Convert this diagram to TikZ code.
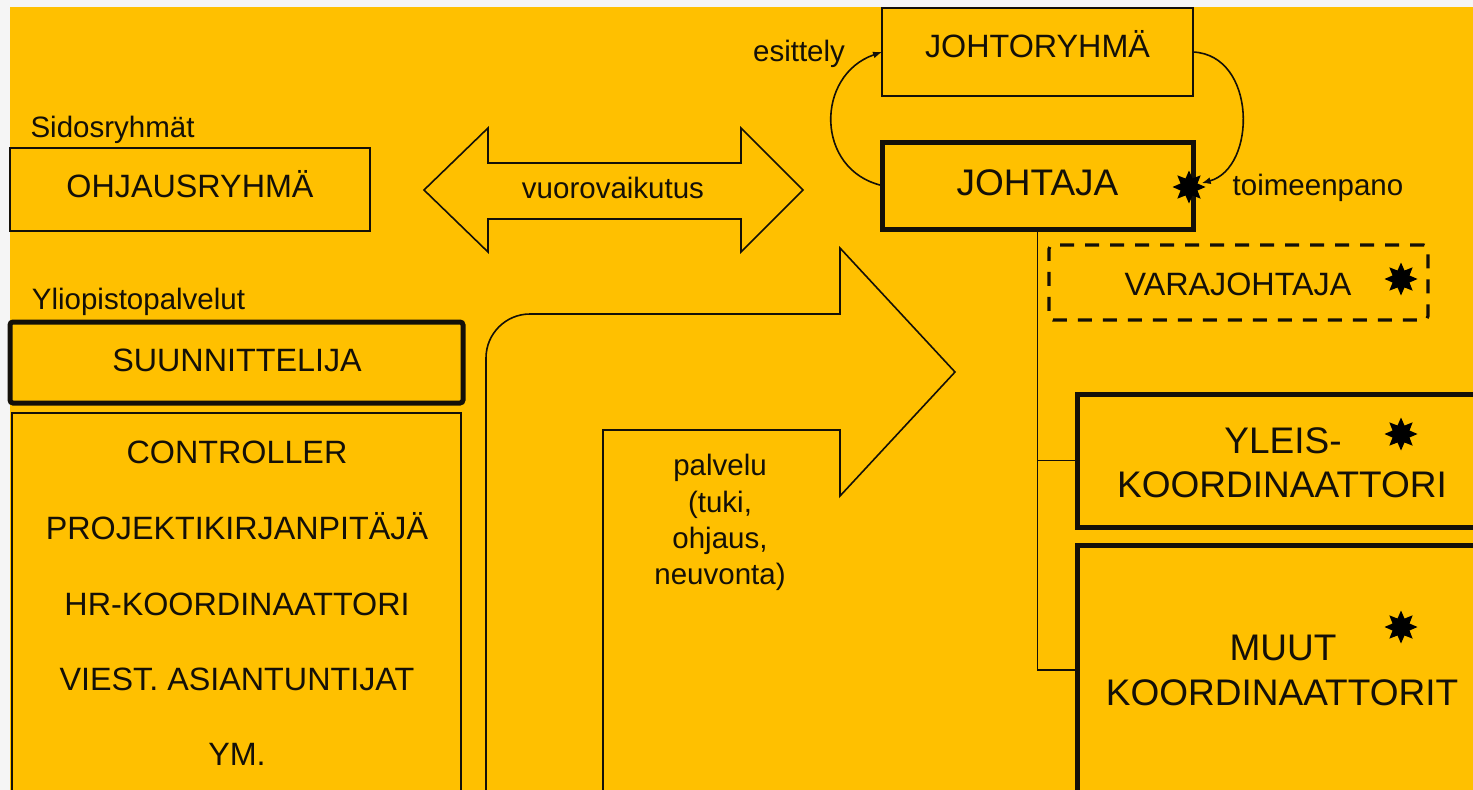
\documentclass[tikz,border=0pt]{standalone}
\usepackage{fontspec}
\setmainfont{Liberation Sans}
\usetikzlibrary{arrows.meta,shapes.geometric}
\definecolor{gold}{HTML}{FFC000}
\definecolor{edgegray}{HTML}{F5F5F5}
\definecolor{ink}{HTML}{141008}
\begin{document}
\begin{tikzpicture}[x=1pt,y=-1pt,
  thinbox/.style={draw=ink, line width=2pt, inner sep=0pt, outer sep=0pt},
  thickbox/.style={draw=ink, line width=5pt, inner sep=0pt, outer sep=0pt},
  dashbox/.style={draw=ink, line width=3.2pt, dash pattern=on 14pt off 11pt, rounded corners=4pt, inner sep=0pt, outer sep=0pt},
  small/.style={font=\fontsize{29.5}{37}\selectfont, inner sep=0pt, anchor=base, text=ink},
  caps/.style={font=\fontsize{32.3}{40}\selectfont, inner sep=0pt, anchor=base, text=ink},
  bigcaps/.style={font=\fontsize{37}{44}\selectfont, inner sep=0pt, anchor=base, text=ink},
  burst/.style={star, star points=8, star point ratio=1.8, fill=black, draw=none, inner sep=0pt, minimum size=33pt},
  shapeline/.style={draw=ink, line width=1.6pt, line join=miter},
  link/.style={draw=ink, line width=1.6pt},
  loopline/.style={draw=ink, line width=1.6pt, -{Latex[length=9pt,width=7pt]}},
]
\useasboundingbox (0,0) rectangle (1473,790);
\fill[edgegray] (0,0) rectangle (1473,790);
\fill[gold] (10,7) rectangle (1473,790);

% block arrows
\draw[shapeline] (424,190) -- (488,128) -- (488,163) -- (741,163) -- (741,128) -- (803,190) -- (741,252) -- (741,219) -- (488,219) -- (488,252) -- cycle;
\draw[shapeline] (486,800) -- (486,358) .. controls (486,333.7) and (505.7,314) .. (530,314) -- (840,314) -- (840,248) -- (955,372) -- (840,496) -- (840,430) -- (603,430) -- (603,800);

% boxes
\node[thinbox, minimum width=360pt, minimum height=83pt] (ohjaus) at (190,189.5) {};
\node[thinbox, minimum width=311pt, minimum height=88pt] (johtoryhma) at (1037.5,52) {};
\node[thickbox, minimum width=311pt, minimum height=87pt] (johtaja) at (1037.5,185.5) {};
\node[dashbox, minimum width=379pt, minimum height=75pt] (varajohtaja) at (1238.5,282.5) {};
\node[thickbox, minimum width=403pt, minimum height=133pt] (yleis) at (1278.5,460.5) {};
\node[thickbox, minimum width=403pt, minimum height=250pt] (muut) at (1278.5,670) {};
\node[thickbox, rounded corners=3pt, minimum width=453pt, minimum height=81pt] (suunnittelija) at (236.5,362.5) {};
\node[thinbox, minimum width=449pt, minimum height=387pt] (lista) at (236.5,606.5) {};

% texts
\node[small] (t-sidos) at (112.5,137) {Sidosryhmät};
\node[caps] (t-ohjaus) at (190,197) {OHJAUSRYHMÄ};
\node[small] (t-vuoro) at (613,198) {vuorovaikutus};
\node[small] (t-esittely) at (799,61) {esittely};
\node[small] (t-toimeen) at (1318,195) {toimeenpano};
\node[caps] (t-johtoryhma) at (1037.5,57) {JOHTORYHMÄ};
\node[bigcaps] (t-johtaja) at (1037.5,195) {JOHTAJA};
\node[caps] (t-vara) at (1238,295) {VARAJOHTAJA};
\node[small] (t-yliop) at (138.5,309) {Yliopistopalvelut};
\node[caps] (t-suunn) at (237,371) {SUUNNITTELIJA};
\node[caps] (t-l1) at (237,463) {CONTROLLER};
\node[caps] (t-l2) at (237,539) {PROJEKTIKIRJANPITÄJÄ};
\node[caps] (t-l3) at (237,615) {HR-KOORDINAATTORI};
\node[caps] (t-l4) at (237,690) {VIEST. ASIANTUNTIJAT};
\node[caps] (t-l5) at (237,765) {YM.};
\node[bigcaps] (t-y1) at (1283,453) {YLEIS-};
\node[bigcaps] (t-y2) at (1282,497) {KOORDINAATTORI};
\node[bigcaps] (t-m1) at (1283,660) {MUUT};
\node[bigcaps] (t-m2) at (1282,705) {KOORDINAATTORIT};
\node[small] (t-p1) at (720,475) {palvelu};
\node[small] (t-p2) at (720,512) {(tuki,};
\node[small] (t-p3) at (720,548) {ohjaus,};
\node[small] (t-p4) at (720,584) {neuvonta)};

% connectors
\draw[loopline] (johtaja.west) .. controls (815,170) and (815,75) .. (johtoryhma.west);
\draw[loopline, shorten >=9pt] (johtoryhma.east) .. controls (1257,55) and (1257,168) .. (johtaja.east);
\draw[link] (johtaja.south) |- (yleis.west);
\draw[link] (johtaja.south) |- (muut.west);

% stars
\node[burst, minimum size=33pt] (s1) at (1189,187) {};
\node[burst] (s2) at (1401,279) {};
\node[burst] (s3) at (1401,434) {};
\node[burst] (s4) at (1401,627) {};
\end{tikzpicture}
\end{document}
